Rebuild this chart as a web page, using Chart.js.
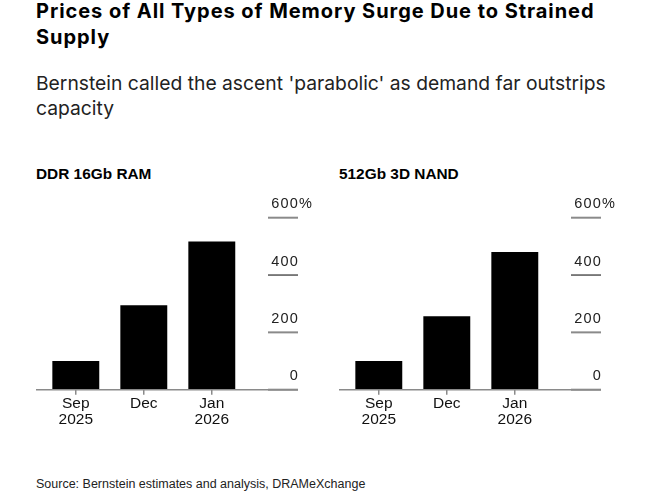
<!DOCTYPE html>
<html>
<head>
<meta charset="utf-8">
<script src="https://cdn.jsdelivr.net/npm/chart.js@4.4.1/dist/chart.umd.min.js"></script>
<style>
    body { margin: 0; background: #fff; font-family: "Liberation Sans", Arial, sans-serif; }
    #page { position: relative; width: 668px; height: 498px; overflow: hidden; }
    .txt { position: absolute; left: 36px; white-space: nowrap; }
    #title { top: -2px; font-family: Inter, "Liberation Sans", sans-serif; font-size: 20px; letter-spacing: 0.95px; line-height: 26px; font-weight: bold; color: #000; }
    #subtitle { top: 71px; font-family: Inter, "Liberation Sans", sans-serif; font-size: 19.3px; line-height: 25px; color: #222; }
    .panelTitle { top: 165px; font-size: 15.4px; line-height: 18px; font-weight: bold; color: #000; }
    #source { top: 476px; font-size: 12.5px; line-height: 16px; color: #222; }
    .box { position: absolute; top: 190px; width: 300px; height: 250px; }
</style>
</head>
<body>
<div id="page">
    <div id="title" class="txt">Prices of All Types of Memory Surge Due to Strained<br>Supply</div>
    <div id="subtitle" class="txt">Bernstein called the ascent 'parabolic' as demand far outstrips<br>capacity</div>
    <div class="txt panelTitle" style="left:36px">DDR 16Gb RAM</div>
    <div class="txt panelTitle" style="left:339px">512Gb 3D NAND</div>
    <div class="box" style="left:30px"><canvas id="ramChart"></canvas></div>
    <div class="box" style="left:333px"><canvas id="nandChart"></canvas></div>
    <div id="source" class="txt">Source: Bernstein estimates and analysis, DRAMeXchange</div>
</div>

<script>
// Data (% price change)
const months = [['Sep', '2025'], 'Dec', ['Jan', '2026']];
const ramValues = [100, 295, 517];
const nandValues = [100, 256, 480];
const yTicks = [0, 200, 400, 600];

const GRAY = '#8a8a8a';

// baseline + short right-hand gridlines with labels sitting on top of them
const rightTicks = {
    id: 'rightTicks',
    afterDatasetsDraw(chart) {
        const ctx = chart.ctx;
        const y = chart.scales.y;
        const base = y.getPixelForValue(0);
        ctx.save();
        ctx.strokeStyle = GRAY;
        ctx.lineWidth = 1.5;
        ctx.beginPath();
        ctx.moveTo(6, base);
        ctx.lineTo(268, base);
        ctx.stroke();

        ctx.font = '14.5px "Liberation Sans", Arial, sans-serif';
        ctx.letterSpacing = '1.2px';
        ctx.fillStyle = '#222';
        ctx.textBaseline = 'alphabetic';
        yTicks.forEach((v, i) => {
            const py = y.getPixelForValue(v);
            ctx.strokeStyle = v === 400 ? '#000' : GRAY;
            ctx.lineWidth = v === 400 ? 1 : 2;
            ctx.beginPath();
            ctx.moveTo(238, py);
            ctx.lineTo(268, py);
            ctx.stroke();
            ctx.textAlign = 'right';
            ctx.fillText(String(v), 269, py - 9.5);
            if (i === yTicks.length - 1) {
                ctx.textAlign = 'left';
                ctx.fillText('%', 269, py - 9.5);
            }
        });
        ctx.restore();
    }
};

function makeChart(id, values) {
    const ctx = document.getElementById(id).getContext('2d');
    return new Chart(ctx, {
        type: 'bar',
        data: {
            labels: months,
            datasets: [{
                data: values,
                backgroundColor: '#000',
                borderWidth: 0,
                barPercentage: 0.69,
                categoryPercentage: 1.0
            }]
        },
        options: {
            responsive: true,
            maintainAspectRatio: false,
            animation: false,
            layout: {
                padding: { top: 27.7, left: 11.8, right: 84.2, bottom: 0 }
            },
            plugins: {
                legend: { display: false },
                tooltip: { enabled: false }
            },
            scales: {
                x: {
                    offset: true,
                    border: { display: false },
                    grid: {
                        offset: false,
                        drawOnChartArea: false,
                        drawTicks: true,
                        tickLength: 5,
                        color: GRAY,
                        lineWidth: 1.5
                    },
                    ticks: {
                        maxRotation: 0,
                        autoSkip: false,
                        padding: 1,
                        color: '#111',
                        font: { family: '"Liberation Sans", Arial, sans-serif', size: 15.5, lineHeight: 1.02 }
                    },
                    afterFit: (scale) => { scale.height = 50.3; }
                },
                y: {
                    display: false,
                    min: 0,
                    max: 600
                }
            }
        },
        plugins: [rightTicks]
    });
}

document.addEventListener('DOMContentLoaded', () => {
    makeChart('ramChart', ramValues);
    makeChart('nandChart', nandValues);
});
</script>
</body>
</html>
